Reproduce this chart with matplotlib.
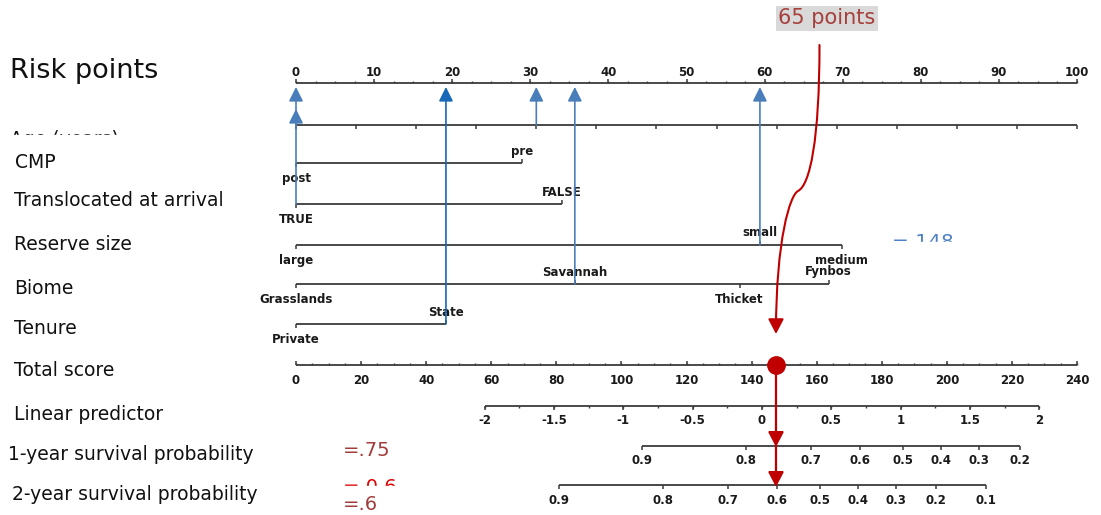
import numpy as np
import matplotlib
matplotlib.use("Agg")
import matplotlib.pyplot as plt
from matplotlib.patches import Rectangle, FancyArrowPatch
from matplotlib.path import Path

# ── nomogram data ─────────────────────────────────────────────────────────────
POINT_TICKS = list(range(0, 101, 10))
AGE_TICKS = list(range(0, 14))          # tick labels are masked in the source
AGE_MAX = 13

CMP_LEVELS = ["post", "pre"]
CMP_POINTS = [0, 29.0]
TRANS_LEVELS = ["TRUE", "FALSE"]
TRANS_POINTS = [0, 34.0]
RESERVE_LEVELS = ["large", "small", "medium"]
RESERVE_POINTS = [0, 59.4, 69.9]
BIOME_LEVELS = ["Grasslands", "Savannah", "Thicket", "Fynbos"]
BIOME_POINTS = [0, 35.7, 56.8, 68.2]
TENURE_LEVELS = ["Private", "State"]
TENURE_POINTS = [0, 19.2]

TOTAL_TICKS = list(range(0, 241, 20))
TOTAL_MAX = 240
LP_TICKS = [-2, -1.5, -1, -0.5, 0, 0.5, 1, 1.5, 2]
LP_ZERO_TOTAL = 143.2      # total score at linear predictor 0
TOTAL_PER_LP = 42.6        # total score per unit of linear predictor
SURV1_TICKS = [0.9, 0.8, 0.7, 0.6, 0.5, 0.4, 0.3, 0.2]
SURV2_TICKS = [0.9, 0.8, 0.7, 0.6, 0.5, 0.4, 0.3, 0.2, 0.1]
BASE_SURV_1Y = 0.778
BASE_SURV_2Y = 0.633

# worked example (blue arrows + red path)
EXAMPLE_AGE = 4
EXAMPLE_POINTS = [0, 19.2, 35.7, 59.4]   # post/TRUE, State, Savannah, small
EXAMPLE_ROWS = ["trans", "tenure", "biome", "reserve"]
EXAMPLE_TOTAL = 147.5

ROW_LABELS = ["Risk points", "Age (years)", "CMP", "Translocated at arrival",
              "Reserve size", "Biome", "Tenure", "Total score",
              "Linear predictor", "1-year survival probability",
              "2-year survival probability"]

# ── layout ────────────────────────────────────────────────────────────────────
W, H = 1101, 515
X0_PX, PX_PER_POINT = 296, 7.81
ROW_Y = {"points": 83, "age": 125, "cmp": 163, "trans": 204, "reserve": 245,
         "biome": 284, "tenure": 324, "total": 365, "lp": 406,
         "s1": 446, "s2": 485}
LABEL_POS = [(10, 71), (10, 139.8), (15, 163), (14, 201), (14, 245), (14, 288),
             (14, 328), (14, 370), (14, 414), (8, 455), (12, 494)]

AXIS_C = "#3a3a3a"
BLUE = "#4a7ebb"
BLUE_DARK = "#1769b8"
RED = "#c00000"
BROWN_RED = "#a33c3c"
TICK_FONT = dict(family="DejaVu Sans", fontweight="bold", fontsize=8.5,
                 color="#1a1a1a", ha="center", va="center")
ROW_FONT = dict(family="DejaVu Sans", color="#111111", va="center", ha="left")


def total_to_pts(t):
    return np.asarray(t, dtype=float) * 100.0 / TOTAL_MAX


def lp_to_pts(lp):
    return total_to_pts(LP_ZERO_TOTAL + np.asarray(lp, dtype=float) * TOTAL_PER_LP)


def surv_to_pts(s, s0):
    s = np.asarray(s, dtype=float)
    return lp_to_pts(np.log(np.log(s) / np.log(s0)))


def scale(ax, xs, y, labels=None, major=None, minor=None, up=True, dy=12,
          major_len=4, minor_len=2):
    xs = np.asarray(xs, dtype=float)
    ax.plot([xs.min(), xs.max()], [y, y], color=AXIS_C, lw=1.3,
            solid_capstyle="butt", zorder=2)
    sgn = -1 if up else 1
    if minor is not None:
        ax.vlines(minor, y, y + sgn * minor_len, color=AXIS_C, lw=1.0, zorder=2)
    ax.vlines(xs if major is None else major, y, y + sgn * major_len,
              color=AXIS_C, lw=1.1, zorder=2)
    if labels is not None:
        for x, lab in zip(xs, labels):
            ax.text(x, y + dy, lab, **TICK_FONT)


def categorical(ax, levels, pts, y):
    pts = np.asarray(pts, dtype=float)
    ax.plot([pts.min(), pts.max()], [y, y], color=AXIS_C, lw=1.3,
            solid_capstyle="butt", zorder=2)
    for i, (lab, p) in enumerate(zip(levels, pts)):
        above = i % 2 == 1
        ax.vlines(p, y, y - 4 if above else y + 4, color=AXIS_C, lw=1.1, zorder=2)
        ax.text(p, y - 12 if above else y + 15.5, lab, **TICK_FONT)


def up_arrow(ax, x, y0, y1, color, lw=1.2):
    ax.add_patch(FancyArrowPatch((x, y0), (x, y1),
                                 arrowstyle="-|>,head_width=0.43,head_length=0.86",
                                 mutation_scale=10, color=color, lw=lw,
                                 shrinkA=0, shrinkB=0, zorder=4))


def main():
    fig = plt.figure(figsize=(W / 100, H / 100), dpi=100, facecolor="white")
    ax = fig.add_axes([0, 0, 1, 1])
    ax.set_xlim(-X0_PX / PX_PER_POINT, (W - X0_PX) / PX_PER_POINT)
    ax.set_ylim(H, 0)
    ax.axis("off")
    lay = fig.add_axes([0, 0, 1, 1])
    lay.set_xlim(0, W)
    lay.set_ylim(H, 0)
    lay.axis("off")

    # ── scales ──
    scale(ax, POINT_TICKS, ROW_Y["points"], [str(t) for t in POINT_TICKS],
          minor=np.arange(0, 100.1, 2.5), up=True, dy=-11)
    age_pts = np.array(AGE_TICKS) * 100.0 / AGE_MAX
    scale(ax, age_pts, ROW_Y["age"], up=False)
    categorical(ax, CMP_LEVELS, CMP_POINTS, ROW_Y["cmp"])
    categorical(ax, TRANS_LEVELS, TRANS_POINTS, ROW_Y["trans"])
    categorical(ax, RESERVE_LEVELS, RESERVE_POINTS, ROW_Y["reserve"])
    categorical(ax, BIOME_LEVELS, BIOME_POINTS, ROW_Y["biome"])
    categorical(ax, TENURE_LEVELS, TENURE_POINTS, ROW_Y["tenure"])
    scale(ax, total_to_pts(TOTAL_TICKS), ROW_Y["total"], [str(t) for t in TOTAL_TICKS],
          minor=total_to_pts(np.arange(0, TOTAL_MAX + 1, 5)), up=True, dy=16)
    scale(ax, lp_to_pts(LP_TICKS), ROW_Y["lp"], [f"{t:g}" for t in LP_TICKS],
          minor=lp_to_pts(np.arange(-2, 2.01, 0.25)), up=False, dy=15)
    scale(ax, surv_to_pts(SURV1_TICKS, BASE_SURV_1Y), ROW_Y["s1"],
          [f"{t:g}" for t in SURV1_TICKS], up=False, dy=15)
    scale(ax, surv_to_pts(SURV2_TICKS, BASE_SURV_2Y), ROW_Y["s2"],
          [f"{t:g}" for t in SURV2_TICKS], up=False, dy=16)

    # ── row labels ──
    for (x, y), lab in zip(LABEL_POS, ROW_LABELS):
        lay.text(x, y, lab, fontsize=19.5 if lab == "Risk points" else 13.5, **ROW_FONT)
    lay.add_patch(Rectangle((0, 134.5), 290, 17, color="white", zorder=5))

    tip = ROW_Y["points"] + 4
    for p, row in zip(EXAMPLE_POINTS, EXAMPLE_ROWS):
        up_arrow(ax, p, ROW_Y[row], tip, BLUE_DARK if row == "tenure" else BLUE)
    up_arrow(ax, 0, ROW_Y["age"], ROW_Y["age"] - 16, BLUE)
    up_arrow(ax, EXAMPLE_AGE * 100.0 / AGE_MAX, ROW_Y["age"], tip, BLUE)

    # ── red path: 65 points -> total score -> survival ──
    xt = float(total_to_pts(EXAMPLE_TOTAL))
    k = 1 / PX_PER_POINT
    verts = [(xt + 43.5 * k, 45), (xt + 43.5 * k, 140), (xt + 34 * k, 185),
             (xt + 22 * k, 191), (xt + 14 * k, 195), (xt, 240), (xt, 334)]
    codes = [Path.MOVETO] + [Path.CURVE4] * 6
    ax.add_patch(FancyArrowPatch(path=Path(verts, codes),
                                 arrowstyle="-|>,head_width=0.47,head_length=0.9",
                                 mutation_scale=10, color=RED, lw=1.5,
                                 shrinkA=0, shrinkB=0, zorder=6))
    ax.plot([xt], [ROW_Y["total"]], "o", color=RED, ms=12.5, zorder=7)
    for y0, y1 in [(ROW_Y["total"], ROW_Y["s1"] + 1), (ROW_Y["s1"], ROW_Y["s2"] + 2)]:
        ax.add_patch(FancyArrowPatch((xt, y0), (xt, y1),
                                     arrowstyle="-|>,head_width=0.47,head_length=0.9",
                                     mutation_scale=10, color=RED, lw=1.6,
                                     shrinkA=0, shrinkB=0, zorder=6))

    # ── annotations (two of them half hidden in the source) ──
    lay.text(827, 18, "65 points", family="DejaVu Sans", fontsize=15, color="#a5403c",
             ha="center", va="center",
             bbox=dict(boxstyle="square,pad=0.12", facecolor="#d9d9d9", edgecolor="none"))
    lay.text(892, 243, "= 148", family="DejaVu Sans", fontsize=14.5, color="#4f81c7",
             ha="left", va="center")
    lay.add_patch(Rectangle((885, 241.7), 80, 15, color="white", zorder=5))
    lay.text(343, 450, "=.75", family="DejaVu Sans", fontsize=14, color=BROWN_RED,
             ha="left", va="center")
    lay.text(343, 487.2, "= 0.6", family="DejaVu Sans", fontsize=14, color="#dd0000",
             ha="left", va="center")
    lay.add_patch(Rectangle((335, 485.5), 90, 11, color="white", zorder=5))
    lay.text(343, 505, "=.6", family="DejaVu Sans", fontsize=14, color=BROWN_RED,
             ha="left", va="center", zorder=6)

    fig.savefig("out.png", dpi=100, facecolor="white")


if __name__ == "__main__":
    main()
